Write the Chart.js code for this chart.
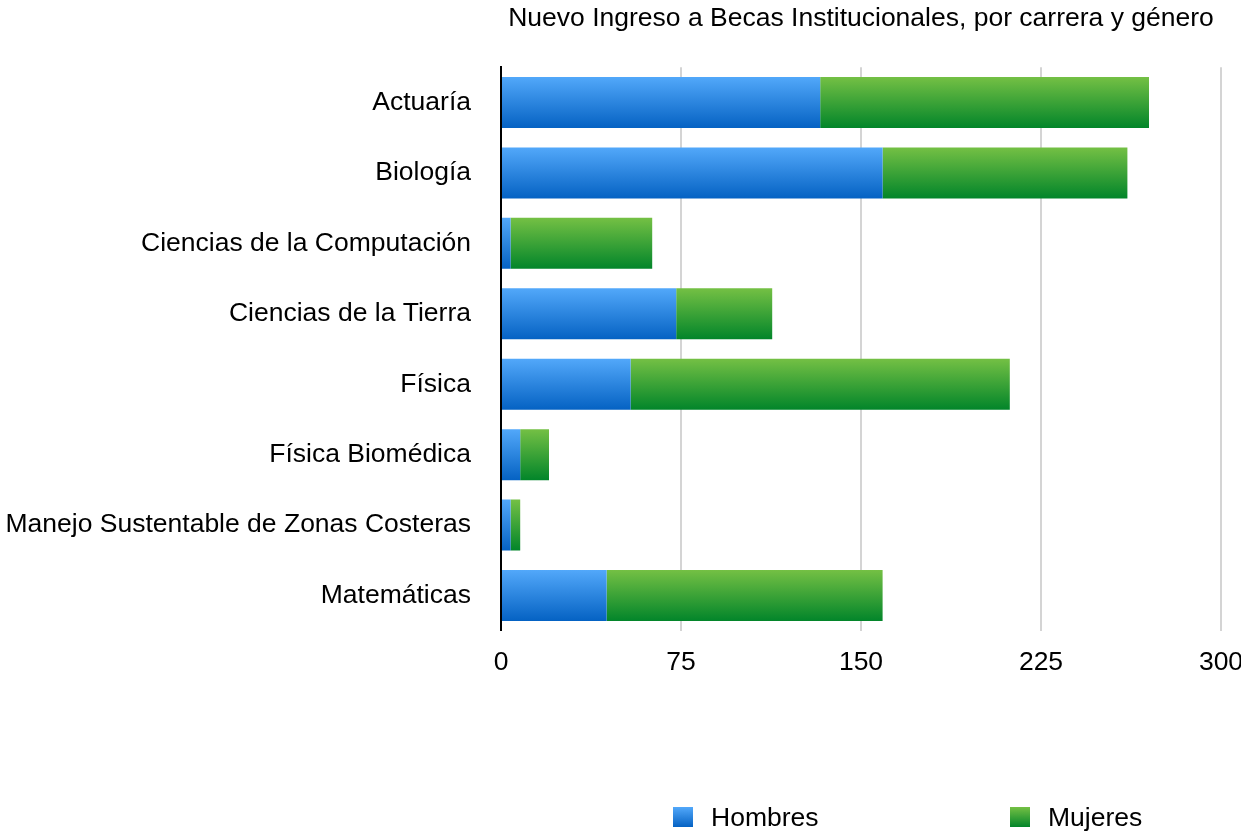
<!DOCTYPE html>
<html lang="es">
<head>
  <meta charset="UTF-8">
  <title>Nuevo Ingreso a Becas Institucionales</title>
  <script src="https://cdn.jsdelivr.net/npm/chart.js"></script>
  <style>
    html, body { margin: 0; padding: 0; background: #fff; }
    .wrap { position: relative; width: 1241px; height: 835px; overflow: hidden; }
    .legend-item {
      position: absolute;
      top: 802px;
      height: 30px;
      line-height: 30px;
      font: 26.5px "Liberation Sans", Arial, sans-serif;
      color: #000;
      display: flex;
      align-items: center;
    }
    .legend-item .box { width: 20px; height: 20px; margin-right: 18px; }
  </style>
</head>
<body>
  <div class="wrap">
    <canvas id="chart" width="1241" height="835"></canvas>
    <!-- legend -->
    <div class="legend-item" style="left: 673px;">
      <span class="box" style="background: linear-gradient(#52a8fa, #0562c3);"></span>Hombres
    </div>
    <div class="legend-item" style="left: 1010px;">
      <span class="box" style="background: linear-gradient(#74c044, #02852a);"></span>Mujeres
    </div>
  </div>

  <script>
    const categories = [
      "Actuaría", "Biología", "Ciencias de la Computación", "Ciencias de la Tierra",
      "Física", "Física Biomédica", "Manejo Sustentable de Zonas Costeras", "Matemáticas"
    ];
    const hombres = [133, 159, 4, 73, 54, 8, 4, 44];
    const mujeres = [137, 102, 59, 40, 158, 12, 4, 115];
    const xTicks = [0, 75, 150, 225, 300];

    const FONT = "'Liberation Sans', Arial, sans-serif";
    const FONT_SIZE = 26.5;
    const BAR_PCT = 0.724;

    // vertical gradient per bar, worked out from the category scale
    function barGradient(top, bottom) {
      return (ctx) => {
        const chart = ctx.chart;
        const yScale = chart.scales.y;
        if (!chart.chartArea || !yScale || ctx.dataIndex === undefined) return bottom;
        const yc = yScale.getPixelForValue(ctx.dataIndex);
        const band = (yScale.bottom - yScale.top) / categories.length;
        const half = band * BAR_PCT / 2;
        const g = chart.ctx.createLinearGradient(0, yc - half, 0, yc + half);
        g.addColorStop(0, top);
        g.addColorStop(1, bottom);
        return g;
      };
    }

    new Chart(document.getElementById("chart"), {
      type: "bar",
      data: {
        labels: categories,
        datasets: [
          { label: "Hombres", data: hombres, backgroundColor: barGradient("#52a8fa", "#0562c3") },
          { label: "Mujeres", data: mujeres, backgroundColor: barGradient("#74c044", "#02852a") }
        ]
      },
      options: {
        indexAxis: "y",
        responsive: false,
        animation: false,
        categoryPercentage: 1,
        barPercentage: BAR_PCT,
        layout: { padding: { left: 0, right: 20, top: 0, bottom: 0 } },
        plugins: {
          legend: { display: false },
          tooltip: { enabled: false },
          title: {
            display: true,
            fullSize: false,
            text: "Nuevo Ingreso a Becas Institucionales, por carrera y género",
            color: "#000",
            font: { family: FONT, size: FONT_SIZE, weight: "normal" },
            padding: { top: 3, bottom: 32.5 }
          }
        },
        scales: {
          x: {
            stacked: true,
            min: 0,
            max: 300,
            afterBuildTicks: (s) => { s.ticks = xTicks.map(v => ({ value: v })); },
            afterFit: (s) => { s.height = 204.3; s.paddingRight = 0; s.paddingLeft = 0; },
            grid: {
              drawTicks: false,
              color: "#d4d4d4",
              lineWidth: 2
            },
            border: { display: false },
            ticks: {
              color: "#000",
              padding: 16,
              font: { family: FONT, size: FONT_SIZE }
            }
          },
          y: {
            stacked: true,
            afterFit: (s) => { s.width = 501; },
            grid: { display: false, drawTicks: false },
            border: { display: true, color: "#000", width: 2 },
            ticks: {
              color: "#000",
              padding: 30,
              font: { family: FONT, size: FONT_SIZE }
            }
          }
        }
      }
    });
  </script>
</body>
</html>
